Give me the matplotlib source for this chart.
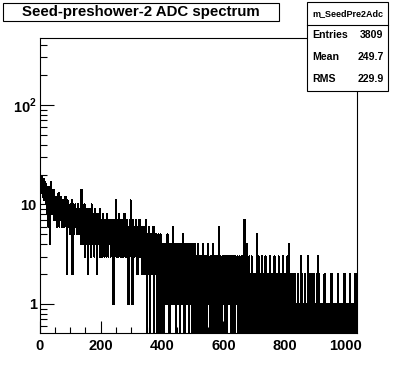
import matplotlib
matplotlib.use('Agg')
import matplotlib.pyplot as plt
import numpy as np
from matplotlib.patches import Rectangle
from matplotlib.lines import Line2D
from matplotlib.ticker import MultipleLocator, LogLocator, NullFormatter

plt.rcParams['font.family'] = 'Liberation Sans'
plt.rcParams['font.weight'] = 'bold'
plt.rcParams['mathtext.fontset'] = 'custom'
plt.rcParams['mathtext.rm'] = 'Liberation Sans:bold'
plt.rcParams['mathtext.bf'] = 'Liberation Sans:bold'

# ADC counts per channel (bin width 1)
counts_0_49 = [
    16, 15, 17, 14, 18, 16, 13, 17, 19, 15,
    12, 16, 14, 18, 13, 15, 11, 17, 14, 12,
    16, 13, 10, 15, 12, 14, 8, 13, 11, 6,
    12, 15, 10, 4, 13, 11, 17, 12, 9, 14,
    10, 12, 8, 13, 11, 9, 14, 7, 12, 10]
counts_50_129 = [
    9, 11, 7, 10, 8, 12, 6, 9, 10, 7,
    11, 8, 13, 9, 6, 10, 8, 11, 7, 9,
    12, 8, 10, 6, 9, 7, 11, 8, 10, 9,
    6, 8, 10, 7, 12, 9, 8, 6, 10, 2,
    8, 11, 7, 9, 6, 10, 8, 9, 7, 5,
    10, 8, 6, 9, 7, 11, 8, 2, 9, 6,
    10, 7, 8, 5, 9, 7, 10, 6, 8, 9,
    7, 9, 6, 8, 5, 10, 7, 9, 6, 8]
counts_130_199 = [
    7, 5, 9, 6, 8, 4, 7, 14, 6, 5,
    8, 6, 9, 4, 7, 5, 10, 6, 3, 7,
    5, 8, 6, 9, 4, 7, 6, 2, 8, 5,
    7, 6, 4, 9, 6, 5, 8, 3, 7, 6,
    10, 5, 7, 4, 6, 8, 5, 7, 3, 6,
    9, 5, 6, 4, 8, 7, 5, 6, 2, 7,
    5, 8, 4, 6, 7, 5, 9, 3, 6, 5]
counts_200_329 = [
    6, 4, 7, 5, 3, 6, 8, 5, 4, 6,
    5, 7, 3, 5, 6, 4, 7, 5, 6, 3,
    8, 4, 5, 6, 3, 7, 5, 4, 6, 5,
    4, 6, 3, 7, 5, 4, 6, 5, 3, 6,
    7, 1, 5, 4, 6, 3, 5, 7, 4, 11,
    5, 6, 3, 4, 7, 5, 6, 4, 3, 8,
    5, 4, 6, 3, 5, 7, 4, 5, 6, 3,
    4, 7, 5, 3, 6, 4, 5, 8, 4, 6,
    3, 5, 4, 6, 7, 3, 5, 4, 6, 5,
    1, 4, 6, 3, 5, 7, 4, 11, 5, 3,
    6, 4, 5, 1, 7, 4, 3, 6, 5, 4,
    3, 6, 5, 4, 7, 3, 5, 6, 4, 2,
    5, 3, 6, 4, 5, 3, 7, 4, 3, 5]
counts_330_399 = [
    4, 3, 5, 2, 4, 6, 3, 4, 2, 5,
    3, 4, 6, 2, 3, 5, 4, 3, 7, 2,
    0, 4, 3, 5, 2, 4, 3, 6, 2, 3,
    4, 0, 5, 3, 2, 4, 3, 5, 2, 4,
    3, 6, 2, 0, 4, 3, 5, 2, 3, 4,
    2, 5, 3, 4, 0, 3, 2, 5, 4, 3,
    0, 4, 2, 3, 5, 3, 4, 2, 0, 3]
counts_400_499 = [
    3, 2, 4, 1, 3, 2, 0, 3, 4, 2,
    1, 3, 2, 4, 3, 1, 2, 5, 3, 2,
    4, 1, 3, 2, 0, 3, 2, 4, 1, 3,
    2, 3, 1, 4, 2, 3, 6, 2, 1, 3,
    2, 4, 3, 1, 2, 0, 3, 2, 4, 2,
    3, 1, 2, 3, 4, 2, 1, 3, 2, 0,
    3, 4, 2, 1, 3, 2, 3, 1, 5, 2,
    4, 2, 3, 0, 2, 3, 1, 4, 2, 3,
    1, 2, 3, 2, 4, 1, 3, 0, 2, 3,
    2, 4, 1, 3, 2, 1, 3, 2, 0, 4]
counts_500_599 = [
    2, 1, 3, 0, 2, 1, 4, 2, 1, 3,
    0, 2, 1, 3, 2, 0, 1, 4, 2, 1,
    3, 2, 0, 1, 3, 2, 1, 2, 0, 3,
    1, 2, 4, 1, 0, 2, 3, 1, 2, 1,
    3, 0, 2, 1, 2, 3, 1, 0, 2, 4,
    1, 2, 3, 1, 2, 0, 1, 3, 2, 1,
    2, 0, 3, 1, 2, 4, 1, 2, 0, 1,
    3, 2, 1, 2, 0, 3, 1, 2, 1, 3,
    0, 2, 1, 3, 2, 6, 1, 2, 0, 2,
    1, 3, 2, 1, 0, 2, 3, 1, 2, 1]
counts_600_699 = [
    2, 1, 3, 1, 2, 0, 1, 2, 3, 1,
    0, 2, 1, 3, 2, 1, 2, 1, 3, 2,
    1, 2, 2, 1, 3, 1, 0, 2, 1, 3,
    1, 0, 2, 1, 3, 2, 0, 1, 2, 1,
    3, 1, 2, 1, 1, 2, 3, 2, 0, 1,
    2, 1, 3, 0, 1, 2, 1, 0, 2, 3,
    1, 2, 0, 1, 3, 2, 1, 0, 7, 2,
    1, 3, 0, 2, 1, 4, 1, 2, 0, 3,
    1, 0, 2, 1, 3, 1, 0, 2, 1, 0,
    2, 1, 3, 0, 1, 2, 1, 0, 2, 1]
counts_700_819 = [
    1, 0, 2, 1, 0, 1, 2, 0, 1, 5,
    0, 1, 2, 1, 0, 3, 1, 0, 1, 2,
    1, 0, 1, 2, 0, 1, 3, 1, 0, 2,
    1, 1, 0, 2, 1, 0, 1, 3, 0, 1,
    2, 1, 0, 1, 2, 0, 1, 1, 0, 2,
    1, 0, 3, 1, 0, 2, 1, 0, 1, 2,
    0, 1, 1, 2, 0, 1, 3, 0, 1, 2,
    1, 0, 2, 1, 0, 1, 2, 1, 0, 1,
    3, 0, 1, 2, 1, 0, 1, 2, 0, 1,
    1, 2, 0, 1, 3, 1, 0, 2, 1, 0,
    1, 2, 0, 1, 1, 0, 2, 1, 3, 0,
    1, 2, 0, 1, 4, 2, 0, 1, 2, 1]
counts_820_919 = [
    0, 1, 2, 0, 1, 1, 0, 1, 1, 0,
    1, 0, 2, 1, 0, 1, 1, 1, 1, 1,
    0, 1, 0, 2, 1, 1, 0, 1, 0, 1,
    1, 0, 1, 3, 0, 1, 2, 0, 1, 1,
    0, 1, 1, 0, 1, 0, 2, 1, 1, 0,
    1, 1, 1, 1, 0, 1, 3, 0, 1, 2,
    1, 0, 1, 0, 2, 1, 0, 1, 1, 0,
    1, 1, 0, 1, 2, 0, 1, 0, 1, 1,
    0, 1, 1, 0, 2, 1, 0, 1, 3, 0,
    1, 2, 0, 1, 0, 1, 1, 1, 1, 0]
counts_920_1035 = [
    0, 1, 0, 1, 1, 0, 0, 1, 1, 0,
    2, 0, 1, 0, 1, 1, 0, 0, 1, 1,
    0, 1, 0, 1, 1, 1, 1, 0, 1, 0,
    1, 0, 2, 0, 1, 1, 0, 1, 0, 1,
    0, 1, 1, 0, 0, 1, 1, 0, 1, 0,
    1, 0, 1, 2, 0, 0, 1, 1, 1, 1,
    0, 1, 1, 0, 1, 0, 0, 1, 1, 0,
    1, 1, 0, 1, 0, 2, 0, 1, 0, 1,
    1, 0, 1, 1, 1, 1, 0, 1, 1, 0,
    0, 1, 0, 2, 1, 0, 1, 1, 0, 1,
    1, 0, 1, 0, 1, 1, 0, 1, 2, 0,
    1, 0, 1, 1, 0, 2]

title = 'Seed-preshower-2 ADC spectrum'
hist_name = 'm_SeedPre2Adc'
stat_names = ['Entries', 'Mean', 'RMS']
stat_values = ['3809', '249.7', '229.9']
x_ticks = [0, 200, 400, 600, 800, 1000]
y_ticks = [1, 10, 100]
y_ticklabels = ['1', '10', r'$10^{2}$']

counts = np.array(counts_0_49 + counts_50_129 + counts_130_199 + counts_200_329
                  + counts_330_399 + counts_400_499 + counts_500_599 + counts_600_699
                  + counts_700_819 + counts_820_919 + counts_920_1035, dtype=float)
edges = np.arange(len(counts) + 1)

W, H = 396, 372
fig = plt.figure(figsize=(W / 100, H / 100), dpi=100)
fig.patch.set_facecolor('white')


def fx(px):
    return px / W


def fy(py):
    return 1 - py / H


ax = fig.add_axes([fx(39.5), fy(333), fx(357) - fx(39.5), fy(38) - fy(333)])

# empty bins are drawn down to the bottom of the frame, like ROOT does on log y
drawn = np.where(counts > 0, counts, 1e-3)
ax.stairs(drawn, edges, baseline=None, color='black', lw=0.75, antialiased=False)

ax.set_yscale('log')
ax.set_xlim(0, 1036)
ax.set_ylim(0.511, 471)

ax.set_xticks(x_ticks)
ax.set_xticklabels([str(t) for t in x_ticks])
ax.xaxis.set_minor_locator(MultipleLocator(50))
ax.set_yticks(y_ticks)
ax.set_yticklabels(y_ticklabels)
ax.yaxis.set_minor_locator(LogLocator(base=10, subs=np.arange(2, 10)))
ax.yaxis.set_minor_formatter(NullFormatter())

ax.tick_params(which='both', direction='in', top=False, right=False, width=0.8,
               labelsize=10.5, colors='black')
ax.tick_params(axis='x', which='major', length=9, pad=4)
ax.tick_params(axis='x', which='minor', length=4.5)
ax.tick_params(axis='y', which='major', length=10, pad=2)
ax.tick_params(axis='y', which='minor', length=5)
for s in ax.spines.values():
    s.set_linewidth(0.8)

# title box
fig.patches.append(Rectangle((fx(3), fy(21)), fx(279) - fx(3), fy(3) - fy(21),
                             transform=fig.transFigure, fc='white', ec='black',
                             lw=0.8, zorder=5))
fig.text(fx(141), fy(12), title, ha='center', va='center', fontsize=10.8,
         fontweight='bold', zorder=6)

# stats box
fig.patches.append(Rectangle((fx(307), fy(91)), fx(388) - fx(307), fy(2) - fy(91),
                             transform=fig.transFigure, fc='white', ec='black',
                             lw=0.8, zorder=5))
fig.lines.append(Line2D([fx(307), fx(388)], [fy(25), fy(25)],
                        transform=fig.transFigure, color='black', lw=0.8, zorder=6))
fig.text(fx(347.5), fy(14), hist_name, ha='center', va='center', fontsize=6.5,
         fontweight='bold', zorder=6)
for i, (name, val) in enumerate(zip(stat_names, stat_values)):
    yy = fy(34.5 + i * 22.3)
    fig.text(fx(312.5), yy, name, ha='left', va='center', fontsize=7.6,
             fontweight='bold', zorder=6)
    fig.text(fx(383.5), yy, val, ha='right', va='center', fontsize=7.6,
             fontweight='bold', zorder=6)

fig.savefig('out.png', dpi=100, facecolor='white')
